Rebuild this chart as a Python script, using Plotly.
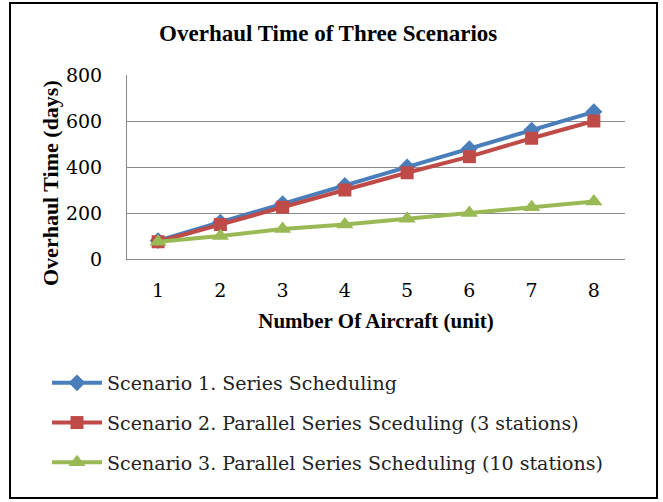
import plotly.graph_objects as go

aircraft = [1, 2, 3, 4, 5, 6, 7, 8]
series_names = [
    "Scenario 1. Series Scheduling",
    "Scenario 2. Parallel Series Sceduling (3 stations)",
    "Scenario 3. Parallel Series Scheduling (10 stations)",
]
scenario1 = [80, 160, 240, 320, 400, 480, 560, 640]
scenario2 = [75, 150, 225, 300, 375, 445, 525, 600]
scenario3 = [75, 100, 130, 150, 175, 200, 225, 250]
y_ticks = [0, 200, 400, 600, 800]

colors = ["#4a7ebb", "#be4b48", "#98b954"]
symbols = ["diamond", "square", "triangle-up"]
sizes = [13, 13, 15]

W, H = 663, 502
L, R, T, B = 127, 625, 75, 259

fig = go.Figure()
for i, (name, vals) in enumerate(zip(series_names, [scenario1, scenario2, scenario3])):
    fig.add_trace(go.Scatter(
        x=aircraft, y=vals, name=name, mode="lines+markers",
        line=dict(color=colors[i], width=4),
        marker=dict(symbol=symbols[i], size=sizes[i], color=colors[i]),
        legendgroup=str(i),
    ))

pw = R - L
ph = B - T
def px(x):
    return (x - L) / pw
def py(y):
    return (B - y) / ph

serif = "Liberation Serif"
numfont = "DejaVu Serif"
fig.update_layout(
    width=W, height=H,
    margin=dict(l=L, r=W - R, t=T, b=H - B),
    paper_bgcolor="white", plot_bgcolor="white",
    title=dict(text="<b>Overhaul Time of Three Scenarios</b>",
               font=dict(family=serif, size=23, color="black"),
               x=0.495, xanchor="center", y=1 - 33 / H, yanchor="middle"),
    xaxis=dict(range=[0.5, 8.5], tickvals=aircraft, ticktext=[str(a) for a in aircraft],
               showgrid=False, showline=True, linecolor="#888888", linewidth=1,
               ticks="", ticklabelstandoff=14, tickfont=dict(family=numfont, size=19, color="black"),
               title=dict(text="<b>Number Of Aircraft (unit)</b>",
                          font=dict(family=serif, size=21, color="black"), standoff=13),
               zeroline=False),
    yaxis=dict(range=[0, 800], tickvals=y_ticks, showgrid=True, gridcolor="#8c8c8c",
               gridwidth=1, showline=True, linecolor="#888888", linewidth=1,
               ticks="", ticklabelstandoff=20, tickfont=dict(family=numfont, size=19, color="black"),
               zeroline=False),
    legend=dict(x=px(47), y=py(364), xanchor="left", yanchor="top",
                font=dict(family=numfont, size=19, color="#222222"),
                traceorder="grouped", tracegroupgap=12, itemwidth=50,
                bgcolor="rgba(0,0,0,0)"),
    showlegend=True,
    annotations=[dict(text="<b>Overhaul Time (days)</b>", textangle=-90,
                      xref="paper", yref="paper", x=px(50), y=py(183),
                      xanchor="center", yanchor="middle", showarrow=False,
                      font=dict(family=serif, size=22, color="black"))],
    shapes=[dict(type="rect", xref="paper", yref="paper",
                 x0=px(10), x1=px(657), y0=py(498), y1=py(3),
                 line=dict(color="black", width=2), fillcolor="rgba(0,0,0,0)", layer="below")],
)

fig.write_html("out.html", config={"displayModeBar": False},
               post_script="document.body.style.margin='0';document.body.style.padding='0';")
